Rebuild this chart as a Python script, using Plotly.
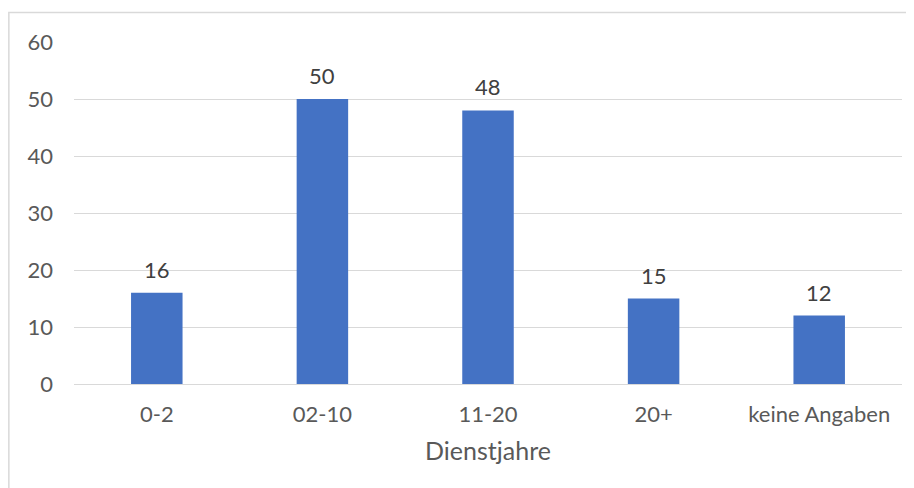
import plotly.graph_objects as go

categories = ["0-2", "02-10", "11-20", "20+", "keine Angaben"]
values = [16, 50, 48, 15, 12]
y_ticks = [0, 10, 20, 30, 40, 50, 60]

FONT = "Lato, Open Sans, sans-serif"

fig = go.Figure()
fig.add_trace(go.Bar(
    x=categories, y=values,
    marker=dict(color="#4472C4", line=dict(width=0)),
    hoverinfo="x+y",
))

# data labels above the bars
for c, v in zip(categories, values):
    fig.add_annotation(
        x=c, y=v, text=str(v), showarrow=False,
        yanchor="bottom", yshift=8,
        font=dict(family=FONT, size=22, color="#404040"),
    )

# page body adds 8px offset; figure sized to fill the remaining window
fig.update_layout(
    width=906, height=480,
    margin=dict(l=66, r=12, t=34, b=104, autoexpand=False),
    paper_bgcolor="white", plot_bgcolor="white",
    font=dict(family=FONT, color="#595959", size=22),
    bargap=0.689,
    showlegend=False,
    xaxis=dict(
        type="category", automargin=False,
        title=dict(text="Dienstjahre", font=dict(family=FONT, size=25, color="#595959"), standoff=16),
        showgrid=False, showline=False, ticks="",
        ticklabelstandoff=15,
        tickfont=dict(family=FONT, size=22, color="#595959"),
    ),
    yaxis=dict(
        automargin=False,
        range=[0, 60], tickvals=y_ticks, showgrid=True, gridcolor="#D9D9D9", gridwidth=1.3,
        zeroline=True, zerolinecolor="#D9D9D9", zerolinewidth=1.3,
        showline=False, ticks="", ticklabelstandoff=20,
        tickfont=dict(family=FONT, size=22, color="#595959"),
    ),
    shapes=[dict(
        type="rect", xref="paper", yref="paper",
        x0=-0.0787, x1=1.03, y0=-0.4, y1=1.0863,
        line=dict(color="#D9D9D9", width=1.5), fillcolor="rgba(0,0,0,0)",
    )],
)

fig.write_html("out.html")
